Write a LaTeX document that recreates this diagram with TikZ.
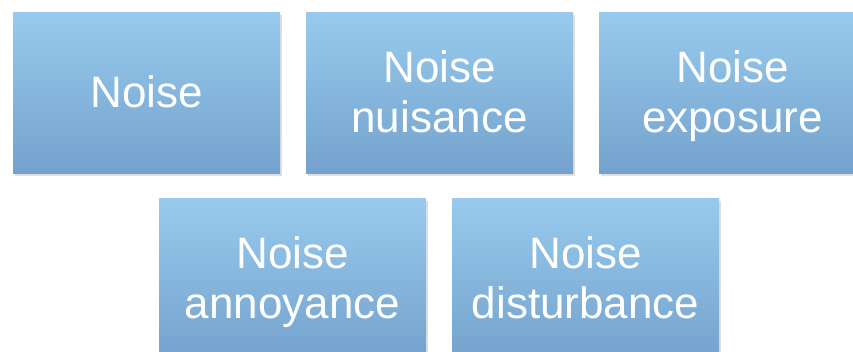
\documentclass[tikz,border=0pt]{standalone}
\usepackage{fontspec}
\setmainfont{Liberation Sans}
\usetikzlibrary{shadows}
\definecolor{boxtop}{RGB}{152,202,237}
\definecolor{boxmid}{RGB}{145,194,232}
\definecolor{boxbot}{RGB}{116,162,205}
\newcommand{\lnstrut}{\rule[-10pt]{0pt}{49pt}}
\tikzset{
  card/.style={rectangle, minimum width=267pt, minimum height=161pt, inner sep=0pt,
    top color=boxtop, middle color=boxmid, bottom color=boxbot,
    drop shadow={opacity=0.25, shadow xshift=1.5pt, shadow yshift=-2.5pt},
    text=white, align=center,
    font=\fontsize{44pt}{47pt}\selectfont}
}
\begin{document}
\begin{tikzpicture}[x=1pt,y=1pt]
\useasboundingbox (0,0) rectangle (853,-351);
\node[card] (n1) at (146.5,-92.5) {\lnstrut Noise};
\node[card] (n2) at (439.5,-92.5) {\lnstrut Noise\\\lnstrut nuisance};
\node[card] (n3) at (732.5,-92.5) {\lnstrut Noise\\\lnstrut exposure};
\node[card] (n4) at (292.5,-278.5) {\lnstrut Noise\\\lnstrut annoyance};
\node[card] (n5) at (585.5,-278.5) {\lnstrut Noise\\\lnstrut disturbance};
\end{tikzpicture}
\end{document}
